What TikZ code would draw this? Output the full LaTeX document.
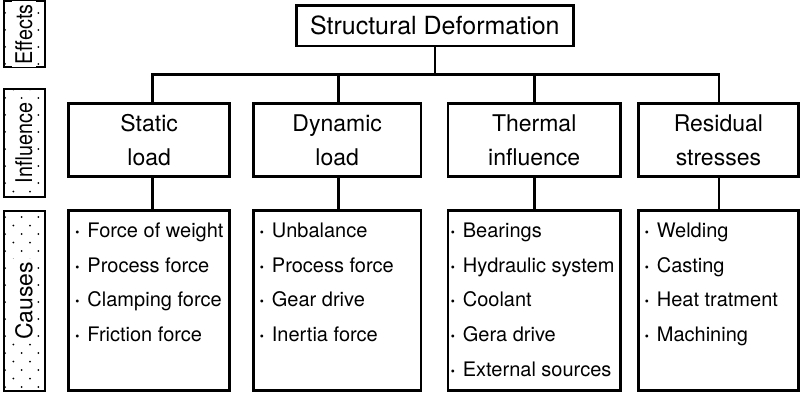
\documentclass[tikz,border=0pt]{standalone}
\usepackage{fontspec}
\usepackage{graphicx}
\setmainfont{TeX Gyre Heros}
\usetikzlibrary{calc}
\newcommand{\itembul}{{\bfseries ·}\hspace{0.36em}}
\begin{document}
\begin{tikzpicture}[x=1pt,y=-1pt,
  box/.style={draw, line width=2.6pt, inner sep=0pt, outer sep=0pt},
  headtxt/.style={align=center, font=\fontsize{23}{34}\selectfont},
  item/.style={anchor=base west, inner sep=0pt, font=\fontsize{20}{24}\selectfont},
  lab/.style={draw, line width=2pt, minimum width=41pt, inner sep=0pt, outer sep=0pt},
  labtxt/.style={rotate=90, fill=white, inner sep=3pt, font=\fontsize{23}{26}\selectfont},
  wire/.style={line width=2.6pt}]
\useasboundingbox (0,0) rectangle (800,401);

% left labels
\node[lab, minimum height=66.5pt] (effects) at (24,34.25) {};
\node[lab, minimum height=108.6pt] (influence) at (24,143) {};
\node[lab, minimum height=180.6pt] (causes) at (24,301) {};
\foreach \b in {effects,influence,causes}{
  \begin{scope}
    \clip ($(\b.north west)+(1.5,1.5)$) rectangle ($(\b.south east)+(-1.5,-1.5)$);
    \foreach \k in {0,...,47}{
      \pgfmathsetmacro\yy{4.5+8.5*\k}
      \pgfmathsetmacro\xo{5+8.3*mod(\k+1,2)}
      \foreach \j in {0,1,2}
        \fill ({\xo+16.7*\j},\yy) circle (1pt);
    }
  \end{scope}
}
\node[labtxt] (effectsT) at (effects) {\scalebox{0.86}[1]{Effects}};
\node[labtxt] (influenceT) at (influence) {\scalebox{0.86}[1]{Influence}};
\node[labtxt] (causesT) at (causes) {Causes};

% top
\node[box, minimum width=277pt, minimum height=40.7pt, font=\fontsize{25}{30}\selectfont] (top) at (434.8,25.7) {Structural Deformation};

% headers
\node[box, headtxt, minimum width=161pt, minimum height=72.6pt] (s1) at (149.2,140) {Static\\load};
\node[box, headtxt, minimum width=167.7pt, minimum height=72.6pt] (s2) at (337.2,140) {Dynamic\\load};
\node[box, headtxt, minimum width=172.4pt, minimum height=72.6pt] (s3) at (534.2,140) {Thermal\\influence};
\node[box, headtxt, minimum width=160.2pt, minimum height=72.6pt] (s4) at (718.4,140) {Residual\\stresses};

% cause boxes
\node[box, minimum width=161pt, minimum height=179.5pt] (c1) at (149.2,300.5) {};
\node[box, minimum width=167.7pt, minimum height=179.5pt] (c2) at (337.2,300.5) {};
\node[box, minimum width=172.4pt, minimum height=179.5pt] (c3) at (534.2,300.5) {};
\node[box, minimum width=160.2pt, minimum height=179.5pt] (c4) at (718.4,300.5) {};

% items
\foreach \txt [count=\i] in {Force of weight, Process force, Clamping force, Friction force}
  \node[item] (c1-\i) at ($(c1.north west)+(5.8,{26.6+(\i-1)*34.7})$) {\itembul\txt};
\foreach \txt [count=\i] in {Unbalance, Process force, Gear drive, Inertia force}
  \node[item] (c2-\i) at ($(c2.north west)+(5.6,{26.6+(\i-1)*34.7})$) {\itembul\txt};
\foreach \txt [count=\i] in {Bearings, Hydraulic system, Coolant, Gera drive, External sources}
  \node[item] (c3-\i) at ($(c3.north west)+(1.9,{26.6+(\i-1)*34.7})$) {\itembul\txt};
\foreach \txt [count=\i] in {Welding, Casting, Heat tratment, Machining}
  \node[item] (c4-\i) at ($(c4.north west)+(5.6,{26.6+(\i-1)*34.7})$) {\itembul\txt};

% connectors
\coordinate (d1) at (152.2,74.7);
\coordinate (d2) at (338.7,74.7);
\coordinate (d3) at (534.3,74.7);
\coordinate (d4) at (719,74.7);
\draw[wire] (top.south) -- (top.south |- d1);
\draw[wire] (d1 |- s1.north) -- (d1) -- (d4) -- (d4 |- s4.north);
\draw[wire] (d2) -- (d2 |- s2.north);
\draw[wire] (d3) -- (d3 |- s3.north);
\draw[wire] (d1 |- s1.south) -- (d1 |- c1.north);
\draw[wire] (d2 |- s2.south) -- (d2 |- c2.north);
\draw[wire] (d3 |- s3.south) -- (d3 |- c3.north);
\draw[wire] (d4 |- s4.south) -- (d4 |- c4.north);
\end{tikzpicture}
\end{document}
